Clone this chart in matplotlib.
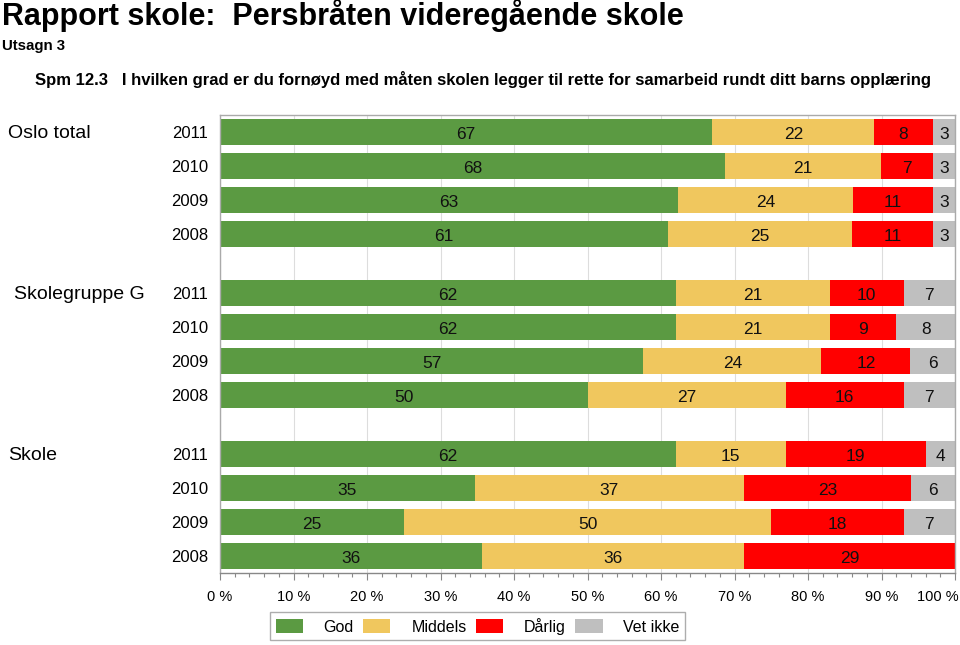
import numpy as np
import matplotlib
matplotlib.use("Agg")
import matplotlib.pyplot as plt
import matplotlib.transforms as mtrans
from matplotlib.patches import Patch
from matplotlib.ticker import MultipleLocator

plt.rcParams["font.family"] = ["Liberation Sans", "DejaVu Sans"]

# ---- data ----
groups = ["Oslo total", "Skolegruppe G", "Skole"]
years = ["2011", "2010", "2009", "2008"]
categories = ["God", "Middels", "Dårlig", "Vet ikke"]
colors = ["#5b9a42", "#f0c75e", "#ff0000", "#bfbfbf"]

god = [67, 68, 63, 61, 62, 62, 57, 50, 62, 35, 25, 36]
middels = [22, 21, 24, 25, 21, 21, 24, 27, 15, 37, 50, 36]
darlig = [8, 7, 11, 11, 10, 9, 12, 16, 19, 23, 18, 29]
vet_ikke = [3, 3, 3, 3, 7, 8, 6, 7, 4, 6, 7, 0]

x_ticks = list(range(0, 101, 10))

title = "Rapport skole:  Persbråten videregående skole"
subtitle = "Utsagn 3"
question = "Spm 12.3   I hvilken grad er du fornøyd med måten skolen legger til rette for samarbeid rundt ditt barns opplæring"

# ---- layout ----
W, H = 960, 645
fig = plt.figure(figsize=(W / 100, H / 100), dpi=100)
ax = fig.add_axes([220 / W, 1 - 573 / H, 735 / W, 458 / H])

group_step = 4.73
ypos = np.array([g * group_step + i for g in range(len(groups)) for i in range(len(years))])

vals = np.array([god, middels, darlig, vet_ikke], dtype=float)
shares = vals / vals.sum(axis=0) * 100  # bars fill to 100 %

left = np.zeros(len(ypos))
for k, cat in enumerate(categories):
    ax.barh(ypos, shares[k], left=left, height=0.76, color=colors[k],
            edgecolor="none", zorder=2, label=cat)
    for y, l, w, v in zip(ypos, left, shares[k], vals[k]):
        if v > 0:
            ax.text(l + w / 2, y + 0.08, f"{int(v)}", ha="center", va="center",
                    fontsize=12.5, color="#111111", zorder=3)
    left += shares[k]

ax.set_xlim(0, 100)
ax.set_ylim(12.97, -0.5)
ax.set_yticks([])
ax.set_xticks(x_ticks)
# the last label is pulled left so it stays inside the figure (drawn below)
ax.set_xticklabels([f"{t} %" if t < 100 else "" for t in x_ticks])
ax.xaxis.set_minor_locator(MultipleLocator(2))
tick_len, tick_pad = 5, 7
ax.tick_params(axis="x", which="major", length=tick_len, width=0.8, color="#888888",
               labelsize=10.5, pad=tick_pad)
ax.tick_params(axis="x", which="minor", length=3, width=0.8, color="#888888")
ax.grid(axis="x", which="major", color="#dddddd", linewidth=0.8, zorder=0)
for s in ax.spines.values():
    s.set_color("#aaaaaa")
    s.set_linewidth(1.0)
ax.spines["bottom"].set_color("#888888")

ax.text(1.0, 0.0, f"{x_ticks[-1]} %", fontsize=10.5, ha="right", va="top",
        transform=ax.transAxes + mtrans.ScaledTranslation(
            4 / 100, -(tick_len + tick_pad) / 72, fig.dpi_scale_trans))

# year labels and group labels
blend = mtrans.blended_transform_factory(fig.transFigure, ax.transData)
for y, yr in zip(ypos, years * len(groups)):
    fig.text(208 / W, y + 0.05, yr, transform=blend, ha="right", va="center", fontsize=12)
group_x = [8, 14, 8]
for g, name in enumerate(groups):
    fig.text(group_x[g] / W, g * group_step + 0.05, name, transform=blend,
             ha="left", va="center", fontsize=14)

# headings
fig.text(2 / W, 1 - 16 / H, title, fontsize=22, fontweight="bold", va="center")
fig.text(2 / W, 1 - 46 / H, subtitle, fontsize=10.8, fontweight="bold", va="center")
fig.text(35 / W, 1 - 80 / H, question, fontsize=12, fontweight="bold", va="center")

handles = [Patch(facecolor=c, edgecolor="none") for c in colors]
leg = fig.legend(handles, categories, loc="upper left",
                 bbox_to_anchor=(270 / W, 1 - 612 / H), borderaxespad=0,
                 ncol=4, fontsize=11.5, frameon=True, fancybox=False,
                 edgecolor="#999999", handlelength=1.7, handleheight=0.9,
                 columnspacing=0.6, handletextpad=1.3, borderpad=0.35)
leg.get_frame().set_linewidth(1.0)

fig.savefig("out.png", dpi=100)
